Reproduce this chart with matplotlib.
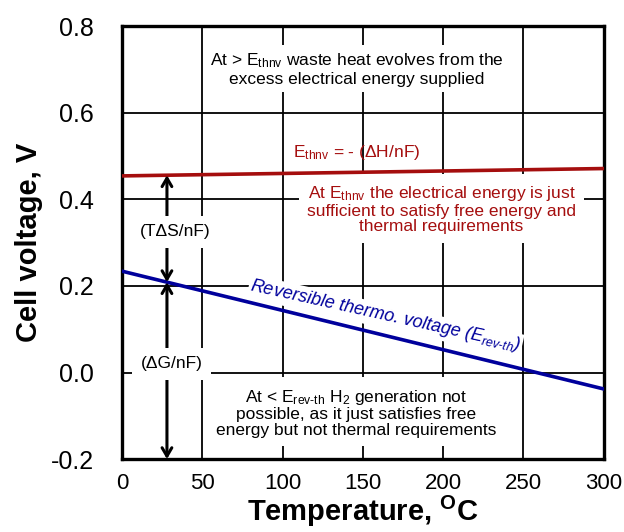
import matplotlib
matplotlib.use("Agg")
import matplotlib.pyplot as plt

plt.rcParams['font.family'] = ['Liberation Sans', 'DejaVu Sans']
plt.rcParams['mathtext.fontset'] = 'custom'
plt.rcParams['mathtext.rm'] = 'Liberation Sans'
plt.rcParams['mathtext.it'] = 'Liberation Sans:italic'
plt.rcParams['mathtext.bf'] = 'Liberation Sans:bold'
plt.rcParams['mathtext.default'] = 'regular'

# data
temp = [0, 300]
e_thnv = [0.454, 0.471]     # thermoneutral voltage
e_rev = [0.234, -0.038]     # reversible thermo. voltage
arrow_t = 28                # where the dS / dG arrows sit
x_ticks = [0, 50, 100, 150, 200, 250, 300]
y_ticks = [-0.2, 0.0, 0.2, 0.4, 0.6, 0.8]
y_labels = ['-0.2', '0.0', '0.2', '0.4', '0.6', '0.8']

red = '#a50e0e'
blue = '#00009c'

fig = plt.figure(figsize=(6.24, 5.32), dpi=100)
ax = fig.add_axes([0.1955, 0.137, 0.772, 0.814])

ax.set_xlim(0, 300)
ax.set_ylim(-0.2, 0.8)
ax.set_xticks(x_ticks)
ax.set_yticks(y_ticks)
ax.set_yticklabels(y_labels)
ax.grid(True, color='black', lw=1.3, zorder=0)
ax.set_axisbelow(True)
ax.tick_params(direction='in', length=0)
ax.tick_params(axis='x', pad=10, labelsize=16)
ax.tick_params(axis='y', pad=20, labelsize=18)
for sp in ax.spines.values():
    sp.set_linewidth(2.4)

ax.plot(temp, e_thnv, color=red, lw=2.6, zorder=3)
ax.plot(temp, e_rev, color=blue, lw=2.6, zorder=3)

white = dict(facecolor='white', edgecolor='none', pad=3)

# arrows between the lines
y_rev_a = e_rev[0] + (e_rev[1] - e_rev[0]) * arrow_t / 300
y_thnv_a = e_thnv[0] + (e_thnv[1] - e_thnv[0]) * arrow_t / 300
aprops = dict(arrowstyle='<->,head_length=0.6,head_width=0.35', lw=2.2, color='black',
              shrinkA=0, shrinkB=0)
ax.annotate('', xy=(arrow_t, y_thnv_a), xytext=(arrow_t, y_rev_a), arrowprops=aprops, zorder=4)
ax.annotate('', xy=(arrow_t, y_rev_a), xytext=(arrow_t, -0.2), arrowprops=aprops, zorder=4)
ax.text(33, 0.325, '(T\u0394S/nF)', ha='center', va='center', fontsize=12.5,
        bbox=dict(facecolor='white', edgecolor='none', pad=6), zorder=5)
ax.text(31, 0.02, '(\u0394G/nF)', ha='center', va='center', fontsize=12.5,
        bbox=dict(facecolor='white', edgecolor='none', pad=6), zorder=5)

ax.text(146, 0.70, 'At > E$_{thnv}$ waste heat evolves from the\nexcess electrical energy supplied',
        ha='center', va='center', fontsize=12.5, linespacing=1.2, bbox=white, zorder=2)
ax.text(146, 0.508, 'E$_{thnv}$ = - (\u0394H/nF)', ha='center', va='center', fontsize=12.5,
        color=red, zorder=2)
ax.text(199, 0.377, 'At E$_{thnv}$ the electrical energy is just\nsufficient to satisfy free energy and\nthermal requirements',
        ha='center', va='center', fontsize=12.5, color=red, linespacing=1.05,
        bbox=dict(facecolor='white', edgecolor='none', pad=6), zorder=2)
ax.text(164, 0.13, 'Reversible thermo. voltage (E$_{rev\\text{-}th}$)', ha='center', va='center',
        fontsize=13, color=blue, style='italic', rotation=-12.5, rotation_mode='anchor',
        bbox=dict(facecolor='white', edgecolor='none', pad=1), zorder=2)
ax.text(146, -0.093, 'At < E$_{rev\\text{-}th}$ H$_2$ generation not\npossible, as it just satisfies free\nenergy but not thermal requirements',
        ha='center', va='center', fontsize=12.5, linespacing=1.05,
        bbox=dict(facecolor='white', edgecolor='none', pad=6), zorder=2)

ax.set_xlabel('Temperature, $^{O}$C', fontsize=21, fontweight='bold', labelpad=0)
ax.set_ylabel('Cell voltage, V', fontsize=21, fontweight='bold', labelpad=6)

fig.savefig('out.png', dpi=100)
